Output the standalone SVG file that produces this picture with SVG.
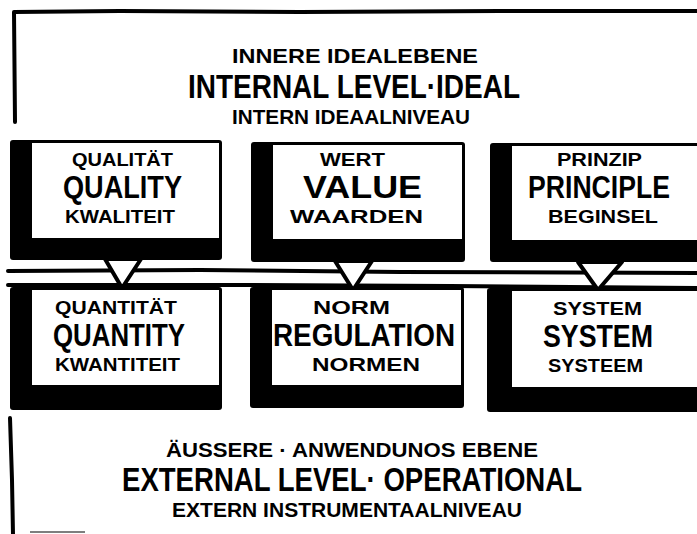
<svg xmlns="http://www.w3.org/2000/svg" width="697" height="534" viewBox="0 0 697 534">
<style>
  text { font-family: "Liberation Sans", Arial, sans-serif; font-weight: 700; fill: #000; }
  .s { font-size: 18px; }
  .b { font-size: 31px; }
  .ts { font-size: 20px; }
  .tb { font-size: 33px; }
  .frame { fill: none; stroke: #000; stroke-width: 4; stroke-linecap: round; stroke-linejoin: round; }
  .shadow { fill: #000; }
  .face { fill: #fff; }
  .tri { fill: #fff; stroke: #000; stroke-width: 4; stroke-linejoin: round; }
  .rule { fill: none; stroke: #000; stroke-width: 4; stroke-linecap: round; }
</style>
<rect width="697" height="534" fill="#fff"/>

<g id="internal-level">
  <path class="frame" d="M15,122 L14,12 L120,11 L300,12 L500,11 L697,11"/>
  <text class="ts" x="232" y="63" textLength="246" lengthAdjust="spacingAndGlyphs">INNERE  IDEALEBENE</text>
  <text class="tb" x="188" y="98" textLength="332" lengthAdjust="spacingAndGlyphs">INTERNAL LEVEL·IDEAL</text>
  <text class="ts" x="232" y="124" textLength="238" lengthAdjust="spacingAndGlyphs">INTERN IDEAALNIVEAU</text>
</g>

<g id="connectors">
  <path class="rule" d="M8,271 L200,270 L400,272 L697,273"/>
  <path class="rule" d="M8,285 L250,285 L450,286 L697,288"/>
  <polygon class="tri" points="105,259 141,259 122,288"/>
  <polygon class="tri" points="335,261 372,261 353,290"/>
  <polygon class="tri" points="578,262 622,262 598,290"/>
</g>

<g id="quality">
  <rect class="shadow" x="10" y="140" width="212" height="120" rx="3"/>
  <rect class="face" x="32" y="143" width="187" height="95"/>
  <text class="s" x="72" y="166" textLength="101" lengthAdjust="spacingAndGlyphs">QUALITÄT</text>
  <text class="b" x="63" y="198" textLength="119" lengthAdjust="spacingAndGlyphs">QUALITY</text>
  <text class="s" x="65" y="223" textLength="110" lengthAdjust="spacingAndGlyphs">KWALITEIT</text>
</g>

<g id="value">
  <rect class="shadow" x="251" y="142" width="214" height="120" rx="3"/>
  <rect class="face" x="273" y="145" width="189" height="94"/>
  <text class="s" x="320" y="166" textLength="65" lengthAdjust="spacingAndGlyphs">WERT</text>
  <text class="b" x="303" y="198" textLength="119" lengthAdjust="spacingAndGlyphs">VALUE</text>
  <text class="s" x="290" y="223" textLength="133" lengthAdjust="spacingAndGlyphs">WAARDEN</text>
</g>

<g id="principle">
  <rect class="shadow" x="490" y="143" width="212" height="119" rx="3"/>
  <rect class="face" x="512" y="146" width="190" height="94"/>
  <text class="s" x="557" y="166" textLength="85" lengthAdjust="spacingAndGlyphs">PRINZIP</text>
  <text class="b" x="528" y="198" textLength="142" lengthAdjust="spacingAndGlyphs">PRINCIPLE</text>
  <text class="s" x="548" y="223" textLength="110" lengthAdjust="spacingAndGlyphs">BEGINSEL</text>
</g>

<g id="quantity">
  <rect class="shadow" x="10" y="287" width="212" height="123" rx="3"/>
  <rect class="face" x="32" y="290" width="187" height="95"/>
  <text class="s" x="55" y="314" textLength="122" lengthAdjust="spacingAndGlyphs">QUANTITÄT</text>
  <text class="b" x="53" y="346" textLength="132" lengthAdjust="spacingAndGlyphs">QUANTITY</text>
  <text class="s" x="55" y="371" textLength="125" lengthAdjust="spacingAndGlyphs">KWANTITEIT</text>
</g>

<g id="regulation">
  <rect class="shadow" x="250" y="287" width="214" height="121" rx="3"/>
  <rect class="face" x="272" y="290" width="189" height="95"/>
  <text class="s" x="313" y="314" textLength="77" lengthAdjust="spacingAndGlyphs">NORM</text>
  <text class="b" x="273" y="346" textLength="182" lengthAdjust="spacingAndGlyphs">REGULATION</text>
  <text class="s" x="312" y="371" textLength="108" lengthAdjust="spacingAndGlyphs">NORMEN</text>
</g>

<g id="system">
  <rect class="shadow" x="487" y="288" width="215" height="124" rx="3"/>
  <rect class="face" x="512" y="291" width="190" height="96"/>
  <text class="s" x="553" y="315" textLength="89" lengthAdjust="spacingAndGlyphs">SYSTEM</text>
  <text class="b" x="543" y="347" textLength="110" lengthAdjust="spacingAndGlyphs">SYSTEM</text>
  <text class="s" x="548" y="372" textLength="95" lengthAdjust="spacingAndGlyphs">SYSTEEM</text>
</g>

<g id="external-level">
  <path class="frame" d="M10,418 L12,480 L13,534"/>
  <path d="M30,532 L85,532" stroke="#000" stroke-width="2" opacity="0.5"/>
  <text class="ts" x="166" y="457" textLength="372" lengthAdjust="spacingAndGlyphs">ÄUSSERE · ANWENDUNOS EBENE</text>
  <text class="tb" x="122" y="491" textLength="460" lengthAdjust="spacingAndGlyphs">EXTERNAL LEVEL· OPERATIONAL</text>
  <text class="ts" x="172" y="517" textLength="350" lengthAdjust="spacingAndGlyphs">EXTERN INSTRUMENTAALNIVEAU</text>
</g>
</svg>
